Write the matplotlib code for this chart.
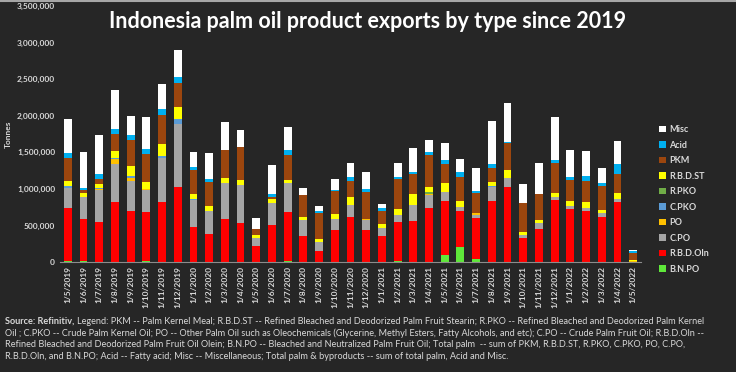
import numpy as np
import matplotlib
matplotlib.use("Agg")
import matplotlib.pyplot as plt
from matplotlib.lines import Line2D
from matplotlib.patches import Patch

plt.rcParams['font.family'] = ['Lato', 'DejaVu Sans']

# months (first day of month, d/m/yyyy)
months = ['1/5/2019', '1/6/2019', '1/7/2019', '1/8/2019', '1/9/2019', '1/10/2019',
          '1/11/2019', '1/12/2019', '1/1/2020', '1/2/2020', '1/3/2020', '1/4/2020',
          '1/5/2020', '1/6/2020', '1/7/2020', '1/8/2020', '1/9/2020', '1/10/2020',
          '1/11/2020', '1/12/2020', '1/1/2021', '1/2/2021', '1/3/2021', '1/4/2021',
          '1/5/2021', '1/6/2021', '1/7/2021', '1/8/2021', '1/9/2021', '1/10/2021',
          '1/11/2021', '1/12/2021', '1/1/2022', '1/2/2022', '1/3/2022', '1/4/2022',
          '1/5/2022']

# values in thousand tonnes
bnpo = [10, 8, 0, 0, 0, 8, 0, 0, 0, 0, 0, 0, 0, 0, 15, 0, 0, 0, 0, 0, 0, 10, 0, 0,
        100, 205, 45, 5, 0, 0, 0, 0, 0, 0, 0, 0, 0]
rbd_oln = [731, 583, 550, 818, 691, 674, 823, 1032, 477, 382, 582, 536, 223, 505, 667,
           359, 155, 436, 614, 436, 350, 540, 559, 741, 732, 495, 560, 831, 1027, 332,
           455, 850, 727, 695, 609, 823, 0]
cpo = [277, 300, 432, 527, 418, 300, 600, 850, 368, 318, 495, 514, 109, 295, 404, 214,
       122, 146, 163, 137, 118, 91, 218, 173, 127, 55, 40, 196, 118, 41, 77, 32, 37, 41,
       59, 32, 0]
po = [0, 0, 20, 59, 41, 10, 0, 0, 0, 0, 0, 0, 0, 0, 0, 0, 0, 0, 0, 14, 0, 0, 0, 18,
      0, 0, 19, 0, 0, 0, 0, 0, 0, 9, 0, 0, 12]
cpko = [15, 0, 5, 18, 23, 0, 27, 68, 19, 0, 0, 0, 0, 0, 0, 0, 0, 0, 0, 0, 0, 0, 0, 0,
        0, 0, 0, 13, 0, 0, 0, 0, 0, 0, 0, 0, 0]
rpko = [0, 0, 0, 5, 0, 0, 0, 0, 0, 0, 0, 0, 0, 0, 0, 0, 0, 0, 0, 0, 0, 0, 0, 27,
        0, 0, 0, 0, 0, 0, 0, 0, 0, 0, 0, 0, 0]
rbd_st = [77, 59, 57, 96, 136, 108, 164, 163, 63, 68, 68, 77, 36, 59, 41, 36, 41, 68,
          105, 0, 46, 77, 146, 68, 118, 77, 0, 50, 109, 36, 41, 68, 72, 73, 37, 86, 15]
pkm = [305, 41, 77, 231, 354, 382, 390, 328, 327, 327, 382, 446, 87, 32, 332, 309, 355,
       314, 232, 373, 177, 423, 282, 432, 264, 327, 277, 196, 369, 391, 359, 404, 291,
       291, 331, 268, 100]
acid = [77, 27, 59, 59, 73, 63, 82, 86, 46, 46, 9, 5, 0, 32, 73, 0, 22, 27, 45, 36, 41,
        23, 31, 45, 50, 68, 27, 45, 13, 0, 0, 46, 37, 64, 50, 127, 28]
misc = [459, 487, 541, 541, 264, 441, 341, 368, 204, 354, 382, 226, 140, 409, 318, 96,
        64, 150, 191, 237, 59, 195, 318, 159, 241, 182, 323, 596, 541, 268, 427, 577, 372,
        341, 205, 314, 9]

series = [('B.N.PO', bnpo, '#5fe83a'),
          ('R.B.D.Oln', rbd_oln, '#ff0000'),
          ('C.PO', cpo, '#a5a5a5'),
          ('PO', po, '#ffc000'),
          ('C.PKO', cpko, '#5b9bd5'),
          ('R.PKO', rpko, '#70ad47'),
          ('R.B.D.ST', rbd_st, '#ffff00'),
          ('PKM', pkm, '#9c460e'),
          ('Acid', acid, '#00b0f0'),
          ('Misc', misc, '#ffffff')]

bg = '#262626'
txt = '#d9d9d9'

fig = plt.figure(figsize=(7.36, 3.72), dpi=100, facecolor=bg)
ax = fig.add_axes([0.0815, 0.2957, 0.7894, 0.6882], facecolor=bg)

x = np.arange(len(months))
bottom = np.zeros(len(months))
handles = []
for name, vals, col in series:
    v = np.array(vals) * 1000.0
    ax.bar(x, v, 0.5, bottom=bottom, color=col, linewidth=0)
    bottom += v
    handles.append(Patch(facecolor=col, label=name))

ax.set_xlim(-0.5, len(months) - 0.5)
ax.set_ylim(0, 3500000)
ax.set_yticks(np.arange(0, 3500001, 500000))
ax.yaxis.set_major_formatter(matplotlib.ticker.FuncFormatter(lambda v, p: f'{int(v):,}'))
ax.set_xticks(x)
ax.set_xticklabels(months, rotation=90)
ax.tick_params(length=0, colors=txt, labelsize=6)
ax.tick_params(axis='x', pad=3)
for lab in ax.get_xticklabels() + ax.get_yticklabels():
    lab.set_fontweight('bold')
for s in ['top', 'right', 'left']:
    ax.spines[s].set_visible(False)
ax.spines['bottom'].set_color('#8c8c8c')
ax.spines['bottom'].set_linewidth(0.8)

ax.set_ylabel('Tonnes', color=txt, fontsize=6, fontweight='bold', labelpad=4)

fig.text(0.499, 0.943, 'Indonesia palm oil product exports by type since 2019',
         ha='center', va='center', color='white', fontsize=15.5, fontweight='bold')

fig.legend(handles=handles[::-1], loc='upper left', bbox_to_anchor=(0.885, 0.685),
           frameon=False, fontsize=6.5, labelcolor=txt, handlelength=0.7,
           handleheight=0.7, handletextpad=0.4, labelspacing=0.72,
           prop={'weight': 'bold', 'size': 6.5})

# footnote
notes = ['Legend: PKM -- Palm Kernel Meal; R.B.D.ST -- Refined Bleached and Deodorized Palm Fruit Stearin; R.PKO -- Refined Bleached and Deodorized Palm Kernel',
         'Oil ; C.PKO -- Crude Palm Kernel Oil; PO -- Other Palm Oil such as Oleochemicals (Glycerine, Methyl Esters, Fatty Alcohols, and etc); C.PO -- Crude Palm Fruit Oil; R.B.D.Oln --',
         'Refined Bleached and Deodorized Palm Fruit Oil Olein; B.N.PO -- Bleached and Neutralized Palm Fruit Oil; Total palm  -- sum of PKM, R.B.D.ST, R.PKO, C.PKO, PO, C.PO,',
         'R.B.D.Oln, and B.N.PO; Acid -- Fatty acid; Misc -- Miscellaneous; Total palm & byproducts -- sum of total palm, Acid and Misc.']
fs = 6.6
src = fig.text(0.007, 0.137, 'Source: Refinitiv, ', color=txt, fontsize=fs,
               fontweight='bold', va='center')
fig.canvas.draw()
ext = src.get_window_extent()
fig.text(ext.x1 / fig.bbox.width, 0.137, notes[0], color=txt, fontsize=fs, va='center')
for i, line in enumerate(notes[1:]):
    fig.text(0.007, 0.105 - i * 0.032, line, color=txt, fontsize=fs, va='center')

fig.add_artist(Line2D([0, 1], [0.997, 0.997], color='#a6a6a6', lw=1.5,
                      transform=fig.transFigure))

fig.savefig('out.png', dpi=100, facecolor=bg)
